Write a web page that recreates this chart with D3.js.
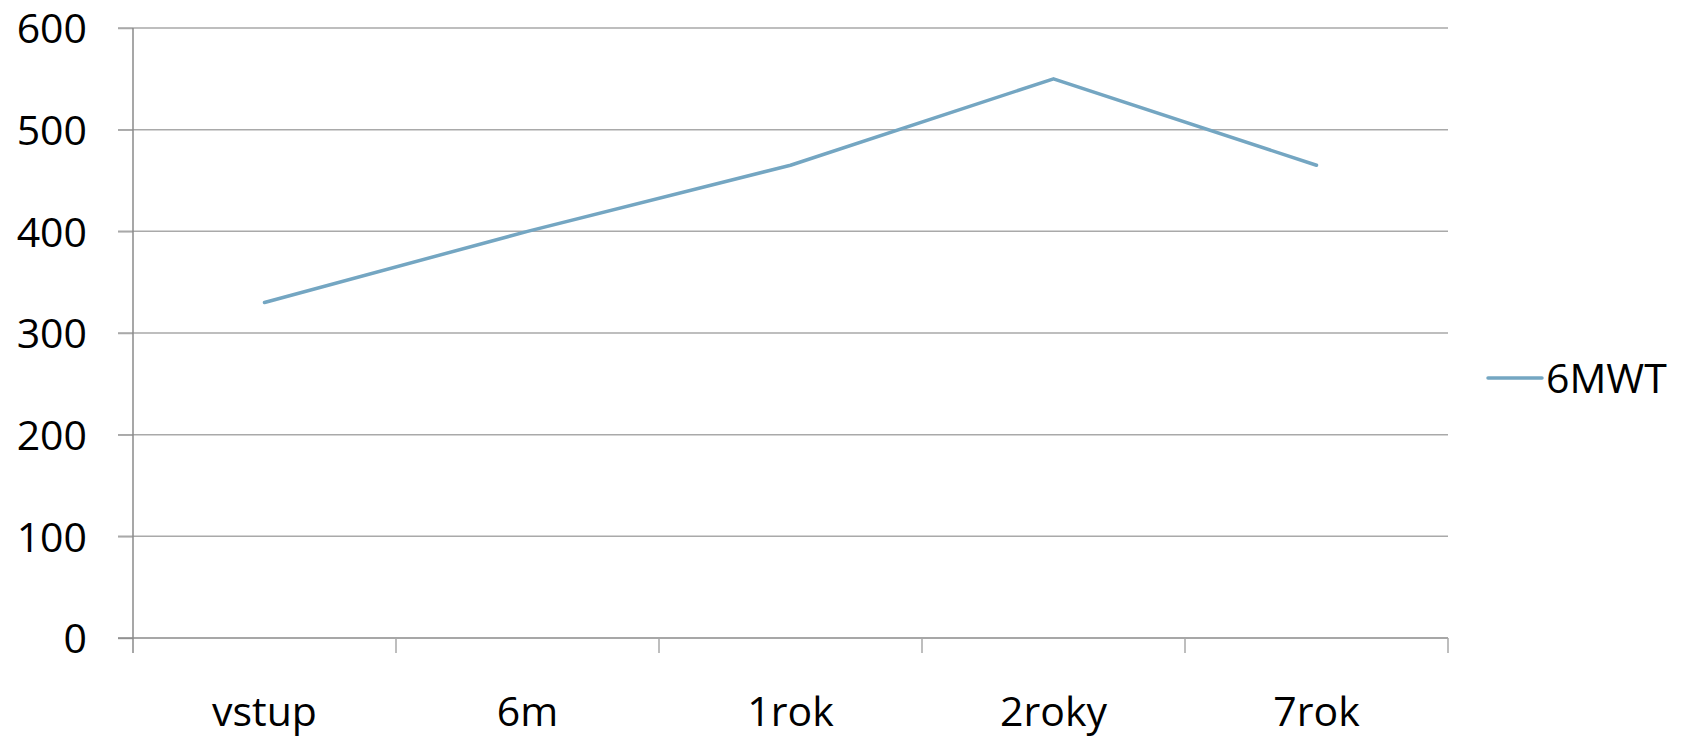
<!DOCTYPE html>
<html lang="en">
  <head>
    <meta charset="UTF-8" />
    <title>6MWT</title>
    <script src="https://d3js.org/d3.v7.min.js"></script>
    <style>
      body {
        margin: 0;
        background: #fff;
      }
      svg {
        display: block;
        font-family: "Open Sans", sans-serif;
      }
    </style>
  </head>
  <body>
    <script>
      // chart data
      const categories = ["vstup", "6m", "1rok", "2roky", "7rok"];
      const values = [330, 400, 465, 550, 465];
      const seriesName = "6MWT";
      const yTicks = [0, 100, 200, 300, 400, 500, 600];

      const W = 1688,
        H = 738;
      const margin = { top: 28, right: 240, bottom: 100, left: 133 };
      const width = W - margin.left - margin.right; // 1315
      const height = H - margin.top - margin.bottom; // 610

      const lineColor = "#74a6c2";
      const gridColor = "#a9a9a9";
      const axisColor = "#8a8a8a";
      const fontSize = 41;

      const svg = d3
        .select("body")
        .append("svg")
        .attr("width", W)
        .attr("height", H);

      const g = svg.append("g").attr("transform", `translate(${margin.left},${margin.top})`);

      const x = d3.scaleBand().domain(categories).range([0, width]).padding(0);
      const y = d3.scaleLinear().domain([0, 600]).range([height, 0]);

      // horizontal gridlines (with left tick stubs)
      g.append("g")
        .selectAll("line")
        .data(yTicks.filter((d) => d > 0))
        .join("line")
        .attr("x1", -15)
        .attr("x2", width)
        .attr("y1", (d) => y(d))
        .attr("y2", (d) => y(d))
        .attr("stroke", gridColor)
        .attr("stroke-width", 1.5);

      // y axis
      const yAxis = g
        .append("g")
        .call(d3.axisLeft(y).tickValues(yTicks).tickSize(15).tickPadding(31).tickSizeOuter(0));
      yAxis.select(".domain").remove();
      yAxis.selectAll(".tick line").attr("stroke", gridColor).attr("stroke-width", 1.5);
      yAxis
        .selectAll("text")
        .attr("fill", "#000")
        .style("font-size", fontSize + "px")
        .style("font-family", "'Open Sans', sans-serif")
        .attr("dy", "0.36em");

      g.append("line")
        .attr("x1", 0)
        .attr("x2", 0)
        .attr("y1", 0)
        .attr("y2", height + 15)
        .attr("stroke", axisColor)
        .attr("stroke-width", 1.5);

      // x axis: line plus ticks on band boundaries
      g.append("line")
        .attr("x1", -15)
        .attr("x2", width)
        .attr("y1", height)
        .attr("y2", height)
        .attr("stroke", axisColor)
        .attr("stroke-width", 1.5);

      const bounds = categories.map((c) => x(c)).concat([width]);
      g.append("g")
        .selectAll("line")
        .data(bounds.slice(1))
        .join("line")
        .attr("x1", (d) => d)
        .attr("x2", (d) => d)
        .attr("y1", height)
        .attr("y2", height + 15)
        .attr("stroke", gridColor)
        .attr("stroke-width", 1.5);

      g.append("g")
        .selectAll("text")
        .data(categories)
        .join("text")
        .attr("x", (d) => x(d) + x.bandwidth() / 2)
        .attr("y", height + 88)
        .attr("text-anchor", "middle")
        .style("font-size", fontSize + "px")
        .attr("fill", "#000")
        .text((d) => d);

      // series line
      const line = d3
        .line()
        .x((d, i) => x(categories[i]) + x.bandwidth() / 2)
        .y((d) => y(d));

      g.append("path")
        .datum(values)
        .attr("fill", "none")
        .attr("stroke", lineColor)
        .attr("stroke-width", 3.5)
        .attr("stroke-linejoin", "round")
        .attr("stroke-linecap", "round")
        .attr("d", line);

      // legend
      const legend = svg.append("g").attr("transform", "translate(1488,378)");
      legend
        .append("line")
        .attr("x1", 0)
        .attr("x2", 54)
        .attr("stroke", lineColor)
        .attr("stroke-width", 3.5)
        .attr("stroke-linecap", "round");
      legend
        .append("text")
        .attr("x", 58)
        .attr("y", 15)
        .style("font-size", fontSize + "px")
        .attr("fill", "#000")
        .text(seriesName);
    </script>
  </body>
</html>
